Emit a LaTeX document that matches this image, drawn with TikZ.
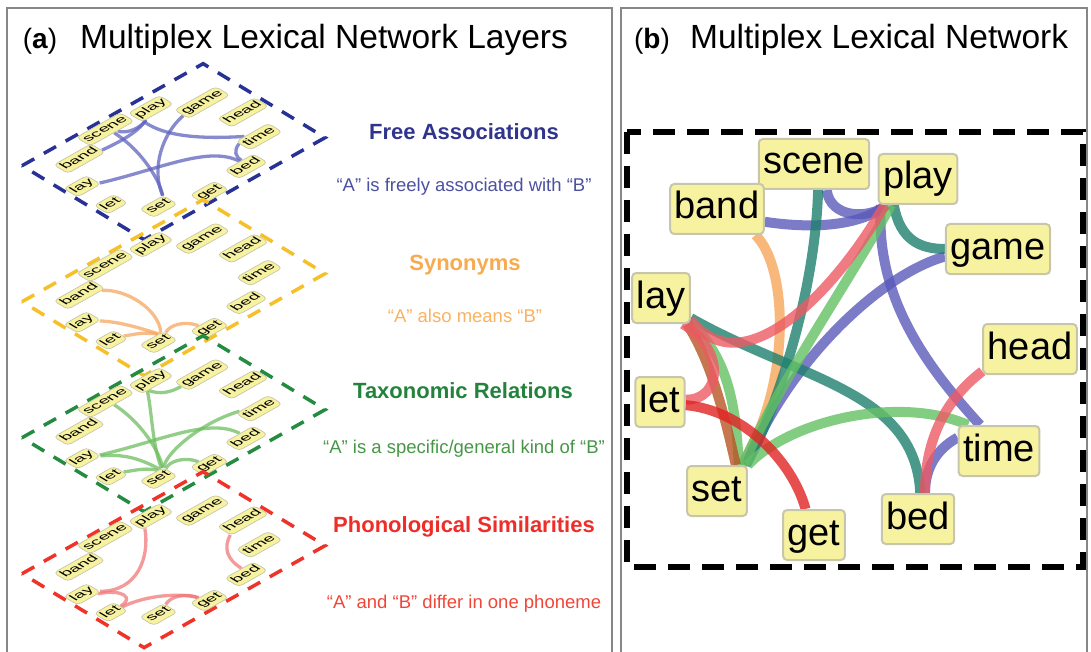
\documentclass[tikz,border=0pt]{standalone}
\usepackage{fontspec}
\setmainfont{Liberation Sans}
\definecolor{fablue}{RGB}{40,50,150}
\definecolor{faedge}{RGB}{95,100,190}
\definecolor{synyel}{RGB}{245,192,40}
\definecolor{synedge}{RGB}{246,165,95}
\definecolor{taxgreen}{RGB}{35,140,65}
\definecolor{taxedge}{RGB}{110,190,95}
\definecolor{phred}{RGB}{240,50,40}
\definecolor{phedge}{RGB}{240,120,120}
\definecolor{boxfill}{RGB}{247,242,160}
\definecolor{boxline}{RGB}{200,198,170}
\definecolor{framegray}{RGB}{135,135,135}
\definecolor{pblue}{RGB}{90,90,185}
\definecolor{pteal}{RGB}{30,128,110}
\definecolor{plgreen}{RGB}{100,192,100}
\definecolor{porange}{RGB}{246,165,90}
\definecolor{pbrown}{RGB}{185,85,35}
\definecolor{ppink}{RGB}{236,90,100}
\definecolor{pred}{RGB}{225,35,35}
\definecolor{tfa}{RGB}{48,52,140}
\definecolor{dfa}{RGB}{75,80,160}
\definecolor{tsy}{RGB}{247,170,80}
\definecolor{dsy}{RGB}{249,178,95}
\definecolor{ttx}{RGB}{35,130,60}
\definecolor{dtx}{RGB}{70,150,70}
\definecolor{tph}{RGB}{238,45,40}
\definecolor{dph}{RGB}{240,70,55}

\tikzset{
  wbox/.style={draw=boxline, fill=boxfill, rounded corners=4pt, line width=2pt,
    font=\fontsize{38}{42}\selectfont, text height=28pt, text depth=8pt,
    inner xsep=4.5pt, inner ysep=7pt},
  lbox/.style={wbox, line width=0.7pt},
  ghost/.style={wbox, draw=none, fill=none},
  pedge/.style={line width=10pt, draw opacity=0.8},
  ledge/.style={line width=3.3pt, draw opacity=0.75},
  lframe/.style={line width=3.5pt, dash pattern=on 14pt off 11pt},
  ttl/.style={anchor=base, font=\bfseries\fontsize{22}{24}\selectfont},
  dsc/.style={anchor=base, font=\fontsize{18.5}{20}\selectfont},
}

% #1 prefix, #2 style, #3 text wrapper (\phantom for placeholders, \mbox for real)
\newcommand\wordnodes[3]{%
  \node[#2] (#1scene) at (814,164) {#3{scene}};
  \node[#2] (#1play) at (918,179) {#3{play}};
  \node[#2] (#1band) at (717,209) {#3{band}};
  \node[#2] (#1game) at (998,249) {#3{game}};
  \node[#2] (#1lay) at (661,298) {#3{lay}};
  \node[#2] (#1head) at (1030,349) {#3{head}};
  \node[#2] (#1let) at (660,402) {#3{let}};
  \node[#2] (#1time) at (999,451) {#3{time}};
  \node[#2] (#1set) at (717,491) {#3{set}};
  \node[#2] (#1bed) at (918,519) {#3{bed}};
  \node[#2] (#1get) at (814,535) {#3{get}};}

\newcommand\eBandPlay[2]{\draw[#2] (#1band.-15) .. controls (820,230) and (862,224) .. (#1play.-140);}
\newcommand\eScenePlay[2]{\draw[#2] (#1scene.-64) .. controls (830,218) and (868,220) .. (#1play.-140);}
\newcommand\eSceneSet[2]{\draw[#2] (#1scene.-81) .. controls (815,300) and (772,420) .. (#1set.42);}
\newcommand\ePlayGame[2]{\draw[#2] (#1play.-133) .. controls (900,240) and (920,249) .. (#1game.west);}
\newcommand\ePlayTime[2]{\draw[#2] (#1play.-145) .. controls (875,300) and (930,370) .. (#1time.126);}
\newcommand\eGameSet[2]{\draw[#2] (#1game.-172) .. controls (880,275) and (790,360) .. (#1set.42);}
\newcommand\ePlayLay[2]{\draw[#2] (#1play.-142) .. controls (830,300) and (740,385) .. (#1lay.-36);}
\newcommand\ePlaySet[2]{\draw[#2] (#1play.-136) .. controls (850,280) and (780,380) .. (#1set.45);}
\newcommand\eBandSet[2]{\draw[#2] (#1band.-34) .. controls (790,270) and (790,390) .. (#1set.47);}
\newcommand\eLaySetA[2]{\draw[#2] (#1lay.-45) .. controls (710,360) and (722,405) .. (#1set.54);}
\newcommand\eLaySetB[2]{\draw[#2] (#1lay.-40) .. controls (730,360) and (736,410) .. (#1set.50);}
\newcommand\eLayLet[2]{\draw[#2] (#1let.5) .. controls (722,400) and (726,350) .. (#1lay.-50);}
\newcommand\eLayBed[2]{\draw[#2] (#1lay.-34) .. controls (800,380) and (915,390) .. (#1bed.85);}
\newcommand\eLetGet[2]{\draw[#2] (#1let.-7) .. controls (742,410) and (792,460) .. (#1get.108);}
\newcommand\eSetTime[2]{\draw[#2] (#1set.40) .. controls (790,420) and (900,395) .. (#1time.140);}
\newcommand\eHeadBed[2]{\draw[#2] (#1head.-155) .. controls (945,400) and (925,440) .. (#1bed.75);}
\newcommand\eTimeBed[2]{\draw[#2] (#1time.162) .. controls (935,450) and (925,470) .. (#1bed.75);}
\newcommand\eLetSet[2]{\draw[#2] (#1let.-20) .. controls (705,425) and (728,440) .. (#1set.58);}
\newcommand\eSetGet[2]{\draw[#2] (#1set.30) .. controls (770,455) and (800,470) .. (#1get.108);}

\newcommand\layerframe[1]{\draw[lframe, draw=#1] (627,132) -- (1083,132) -- (1083,567) -- (627,567) -- cycle;}

\begin{document}
\begin{tikzpicture}[x=1pt,y=-1pt]
\useasboundingbox (0,0) rectangle (1091,652);

% panel frames
\draw[framegray, line width=1.5pt] (7,652) -- (7,8) -- (612,8) -- (612,652);
\draw[framegray, line width=1.5pt] (621,652) -- (621,8) -- (1087,8) -- (1087,652);

% titles
\node[anchor=base, font=\fontsize{28}{30}\selectfont, inner sep=0] (ta) at (40,49) {(\textbf{a})};
\node[anchor=base west, font=\fontsize{33.5}{36}\selectfont, inner sep=0] (tat) at (80,49) {Multiplex Lexical Network Layers};
\node[anchor=base, font=\fontsize{28}{30}\selectfont, inner sep=0] (tb) at (652,49) {(\textbf{b})};
\node[anchor=base west, font=\fontsize{33.5}{36}\selectfont, inner sep=0] (tbt) at (690,49) {Multiplex Lexical Network};

% layer captions
\node[ttl, text=tfa] (cfa) at (464,140) {Free Associations};
\node[dsc, text=dfa] (dfa1) at (464,192) {“A” is freely associated with “B”};
\node[ttl, text=tsy] (csy) at (465,270) {Synonyms};
\node[dsc, text=dsy] (dsy1) at (465,322) {“A” also means “B”};
\node[ttl, text=ttx] (ctx) at (463,398) {Taxonomic Relations};
\node[dsc, text=dtx] (dtx1) at (464,453) {“A” is a specific/general kind of “B”};
\node[ttl, text=tph] (cph) at (464,532) {Phonological Similarities};
\node[dsc, text=dph] (dph1) at (464,608) {“A” and “B” differ in one phoneme};

% layer 1: free associations
\begin{scope}[cm={0.397,0.2237,-0.2805,0.170,(-263.9pt,-283.5pt)}, transform shape]
  \layerframe{fablue}
  \wordnodes{A}{ghost}{\phantom}
  \eBandPlay{A}{ledge, faedge}
  \eScenePlay{A}{ledge, faedge}
  \eSceneSet{A}{ledge, faedge}
  \ePlayTime{A}{ledge, faedge}
  \eGameSet{A}{ledge, faedge}
  \eLayBed{A}{ledge, faedge}
  \eTimeBed{A}{ledge, faedge}
  \wordnodes{A}{lbox}{\mbox}
\end{scope}

% layer 2: synonyms
\begin{scope}[cm={0.397,0.2237,-0.2805,0.170,(-263.9pt,-419.5pt)}, transform shape]
  \layerframe{synyel}
  \wordnodes{Y}{ghost}{\phantom}
  \eBandSet{Y}{ledge, synedge}
  \eLaySetA{Y}{ledge, synedge}
  \eLetSet{Y}{ledge, synedge}
  \eSetGet{Y}{ledge, synedge}
  \wordnodes{Y}{lbox}{\mbox}
\end{scope}

% layer 3: taxonomic
\begin{scope}[cm={0.397,0.2237,-0.2805,0.170,(-263.9pt,-555.5pt)}, transform shape]
  \layerframe{taxgreen}
  \wordnodes{G}{ghost}{\phantom}
  \eSceneSet{G}{ledge, taxedge}
  \ePlayGame{G}{ledge, taxedge}
  \ePlaySet{G}{ledge, taxedge}
  \eLaySetB{G}{ledge, taxedge}
  \eSetTime{G}{ledge, taxedge}
  \eLayBed{G}{ledge, taxedge}
  \eLetSet{G}{ledge, taxedge}
  \eSetGet{G}{ledge, taxedge}
  \wordnodes{G}{lbox}{\mbox}
\end{scope}

% layer 4: phonological
\begin{scope}[cm={0.397,0.2237,-0.2805,0.170,(-263.9pt,-691.5pt)}, transform shape]
  \layerframe{phred}
  \wordnodes{R}{ghost}{\phantom}
  \ePlayLay{R}{ledge, phedge}
  \eHeadBed{R}{ledge, phedge}
  \eLayLet{R}{ledge, phedge}
  \eLetGet{R}{ledge, phedge}
  \eSetGet{R}{ledge, phedge}
  \wordnodes{R}{lbox}{\mbox}
\end{scope}

% panel (b)
\draw[black, line width=6pt, dash pattern=on 22pt off 12pt] (627,132) rectangle (1083,567);
\wordnodes{P}{ghost}{\phantom}
\eBandSet{P}{pedge, porange}
\eBandPlay{P}{pedge, pblue}
\eScenePlay{P}{pedge, pblue}
\ePlayTime{P}{pedge, pblue}
\eGameSet{P}{pedge, pblue}
\eTimeBed{P}{pedge, pblue}
\eSceneSet{P}{pedge, pteal}
\ePlayGame{P}{pedge, pteal}
\eLayBed{P}{pedge, pteal}
\ePlaySet{P}{pedge, plgreen}
\eLaySetB{P}{pedge, plgreen}
\eSetTime{P}{pedge, plgreen}
\eLaySetA{P}{pedge, pbrown}
\ePlayLay{P}{pedge, ppink}
\eLayLet{P}{pedge, ppink}
\eHeadBed{P}{pedge, ppink}
\eLetGet{P}{pedge, pred}
\wordnodes{P}{wbox}{\mbox}
\end{tikzpicture}
\end{document}
